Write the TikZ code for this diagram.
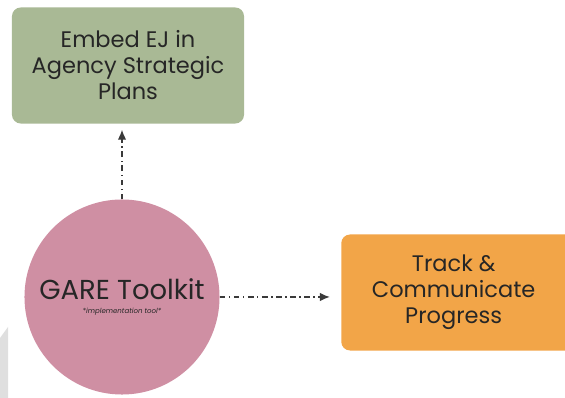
\documentclass[tikz,border=0pt]{standalone}
\usepackage{fontspec}
\setmainfont{Poppins}
\usepackage{tikz}
\usetikzlibrary{positioning}
\usetikzlibrary{arrows.meta}
\definecolor{embedgreen}{HTML}{A9B995}
\definecolor{garepink}{HTML}{CF8FA3}
\definecolor{trackorange}{HTML}{F2A548}
\definecolor{linkgray}{HTML}{3A3A3A}
\tikzset{
  every node/.style={
    align=center,
    draw=none,
    text=black!85,
  },
  goalbox/.style={
    rounded corners=0.22cm,
    inner sep=0pt,
    minimum height=2.9cm,
    font=\fontsize{16}{18.5}\selectfont,
  },
  link/.style={
    draw=linkgray,
    line width=0.9pt,
    dash pattern=on 4pt off 2.5pt on 1pt off 2.5pt,
    -{Latex[length=7pt,width=6pt]},
  },
}

\begin{document}
\begin{tikzpicture}[x=0.025cm,y=-0.025cm]
    \useasboundingbox (0,0) rectangle (565,398);
    \clip (0,0) rectangle (565,398);
    \fill[gray!25] (0,338) -- (8,327) -- (8,398) -- (0,398) -- cycle;
    \node[goalbox,fill=embedgreen,minimum width=5.8cm] (embed) at (128,65.5)
      {Embed EJ in\\Agency Strategic\\Plans};
    \node[goalbox,fill=trackorange,minimum width=6.25cm,anchor=west] (track) at (341,292.5)
      {\hspace*{-18pt}Track \&\\\hspace*{-18pt}Communicate\\\hspace*{-18pt}Progress};
    \node[circle,fill=garepink,minimum size=4.875cm,inner sep=0pt] (gare) at (122,297)
      {{\fontsize{19.5}{21}\selectfont GARE Toolkit}\\[-2pt]
       {\fontsize{5}{6}\selectfont\itshape *implementation tool*}};
    \draw[link,shorten >=0.15cm] (gare.north) -- (gare.north |- embed.south);
    \draw[link,shorten >=0.28cm] (gare.east) -- (gare.east -| track.west);
\end{tikzpicture}
\end{document}
